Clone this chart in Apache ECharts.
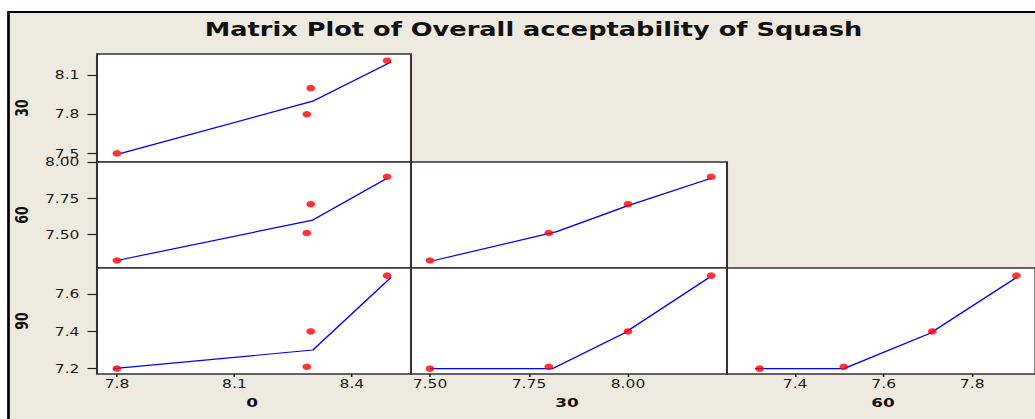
<!DOCTYPE html>
<html><head><meta charset="utf-8">
<script src="https://cdn.jsdelivr.net/npm/echarts@6/dist/echarts.min.js"></script>
<style>
html,body{margin:0;padding:0;background:#fff;overflow:hidden}
#wrap{width:1035px;height:419px;overflow:hidden;position:relative}
#chart{position:absolute;left:0;top:0;height:419px;transform-origin:0 0}
</style></head>
<body><div id="wrap"><div id="chart"></div></div>
<script>
// ---------- data ----------
const variables = ['0', '30', '60', '90'];
// four observations A,B,C,D of each variable
const v0  = [7.80, 8.285, 8.295, 8.49];
const v30 = [7.50, 7.80, 8.00, 8.21];
const v60 = [7.32, 7.51, 7.71, 7.90];
const v90 = [7.20, 7.21, 7.40, 7.70];
// smoother (lowess) vertices per panel, [x, y]
const smooth_0_30  = [[7.81, 7.50], [8.30, 7.90], [8.50, 8.20]];
const smooth_0_60  = [[7.80, 7.32], [8.30, 7.60], [8.49, 7.89]];
const smooth_0_90  = [[7.79, 7.20], [8.30, 7.30], [8.50, 7.69]];
const smooth_30_60 = [[7.51, 7.32], [7.82, 7.52], [8.00, 7.70], [8.21, 7.89]];
const smooth_30_90 = [[7.50, 7.20], [7.81, 7.20], [7.99, 7.39], [8.205, 7.69]];
const smooth_60_90 = [[7.31, 7.20], [7.51, 7.20], [7.705, 7.39], [7.90, 7.69]];
// tick labels
const xTickLabels0  = ['7.8', '8.1', '8.4'];
const xTickLabels30 = ['7.50', '7.75', '8.00'];
const xTickLabels60 = ['7.4', '7.6', '7.8'];
const yTickLabels30 = ['7.5', '7.8', '8.1'];
const yTickLabels60 = ['7.50', '7.75', '8.00'];
const yTickLabels90 = ['7.2', '7.4', '7.6'];
const titleText = 'Matrix Plot of Overall acceptability of Squash';

// ---------- layout ----------
const S = 1.35; // horizontal stretch of the reference picture
const chartW = 1035 / S;
document.getElementById('chart').style.width = chartW + 'px';
document.getElementById('chart').style.transform = 'scaleX(' + S + ')';

const values = { '0': v0, '30': v30, '60': v60, '90': v90 };
const colRange = { '0': [7.749, 8.551], '30': [7.452, 8.25], '60': [7.246, 7.943] };
const rowRange = { '30': [7.434, 8.261], '60': [7.268, 8.002], '90': [7.171, 7.741] };
const colLabels = { '0': xTickLabels0, '30': xTickLabels30, '60': xTickLabels60 };
const rowLabels = { '30': yTickLabels30, '60': yTickLabels60, '90': yTickLabels90 };
const colLeft = { '0': 97, '30': 411, '60': 727 };
const colW = { '0': 314, '30': 316, '60': 315 };
const rowTop = { '30': 54, '60': 162, '90': 268 };
const rowH = { '30': 108, '60': 106, '90': 106 };

const panels = [
  { r: '30', c: '0', smooth: smooth_0_30 },
  { r: '60', c: '0', smooth: smooth_0_60 },
  { r: '60', c: '30', smooth: smooth_30_60 },
  { r: '90', c: '0', smooth: smooth_0_90 },
  { r: '90', c: '30', smooth: smooth_30_90 },
  { r: '90', c: '60', smooth: smooth_60_90 }
];

const FONT = 'DejaVu Sans';
const fmt = labels => (v => {
  for (const l of labels) if (Math.abs(Number(l) - v) < 1e-6) return l;
  return '';
});

const grids = [], xAxes = [], yAxes = [], series = [];
panels.forEach((p, i) => {
  grids.push({
    left: colLeft[p.c] / S, top: rowTop[p.r], width: colW[p.c] / S, height: rowH[p.r],
    show: true, backgroundColor: '#ffffff', borderColor: '#333333', borderWidth: 1.5
  });
  const bottomRow = p.r === '90';
  const firstCol = p.c === '0';
  const xl = colLabels[p.c], yl = rowLabels[p.r];
  xAxes.push({
    type: 'value', gridIndex: i, min: colRange[p.c][0], max: colRange[p.c][1],
    show: bottomRow, splitLine: { show: false }, axisLine: { show: false },
    axisTick: { show: bottomRow, customValues: xl.map(Number), length: 3, lineStyle: { color: '#222', width: 1.2 } },
    axisLabel: { show: bottomRow, customValues: xl.map(Number), formatter: fmt(xl), margin: 4,
      fontFamily: FONT, fontSize: 11.5, color: '#1a1a1a' }
  });
  yAxes.push({
    type: 'value', gridIndex: i, min: rowRange[p.r][0], max: rowRange[p.r][1],
    show: firstCol, splitLine: { show: false }, axisLine: { show: false },
    axisTick: { show: firstCol, customValues: yl.map(Number), length: 7, lineStyle: { color: '#222', width: 1.2 } },
    axisLabel: { show: firstCol, customValues: yl.map(Number), formatter: fmt(yl), margin: 13,
      fontFamily: FONT, fontSize: 11.5, color: '#1a1a1a' }
  });
  series.push({
    type: 'line', xAxisIndex: i, yAxisIndex: i, data: p.smooth, symbol: 'none', silent: true,
    lineStyle: { color: '#0000ff', width: 1.2 }, z: 2
  });
  series.push({
    type: 'scatter', xAxisIndex: i, yAxisIndex: i, silent: true,
    data: values[p.c].map((x, k) => [x, values[p.r][k]]),
    symbol: 'circle', symbolSize: 6.5, itemStyle: { color: '#ff0000' }, z: 3
  });
});

const graphic = [
  { type: 'rect', z: -10, shape: { x: 8.5 / S, y: 12, width: 2000, height: 1000 },
    style: { fill: '#eeeae0', stroke: '#000000', lineWidth: 2 } },
  { type: 'text', x: 533.5 / S, y: 29, z: 10,
    style: { text: titleText, font: 'bold 19px "DejaVu Sans"', fill: '#111', align: 'center', verticalAlign: 'middle' } },
  { type: 'text', x: 22 / S, y: 108, rotation: Math.PI / 2, z: 10,
    style: { text: variables[1], font: 'bold 12.5px "DejaVu Sans"', fill: '#111', align: 'center', verticalAlign: 'middle' } },
  { type: 'text', x: 22 / S, y: 215, rotation: Math.PI / 2, z: 10,
    style: { text: variables[2], font: 'bold 12.5px "DejaVu Sans"', fill: '#111', align: 'center', verticalAlign: 'middle' } },
  { type: 'text', x: 22 / S, y: 321, rotation: Math.PI / 2, z: 10,
    style: { text: variables[3], font: 'bold 12.5px "DejaVu Sans"', fill: '#111', align: 'center', verticalAlign: 'middle' } },
  { type: 'text', x: 252 / S, y: 402, z: 10,
    style: { text: variables[0], font: 'bold 12.5px "DejaVu Sans"', fill: '#111', align: 'center', verticalAlign: 'middle' } },
  { type: 'text', x: 567 / S, y: 402, z: 10,
    style: { text: variables[1], font: 'bold 12.5px "DejaVu Sans"', fill: '#111', align: 'center', verticalAlign: 'middle' } },
  { type: 'text', x: 883 / S, y: 402, z: 10,
    style: { text: variables[2], font: 'bold 12.5px "DejaVu Sans"', fill: '#111', align: 'center', verticalAlign: 'middle' } }
];

const chart = echarts.init(document.getElementById('chart'), null, { renderer: 'svg' });
chart.setOption({
  animation: false,
  backgroundColor: '#ffffff',
  grid: grids, xAxis: xAxes, yAxis: yAxes, series: series, graphic: graphic
});
</script>
</body></html>
